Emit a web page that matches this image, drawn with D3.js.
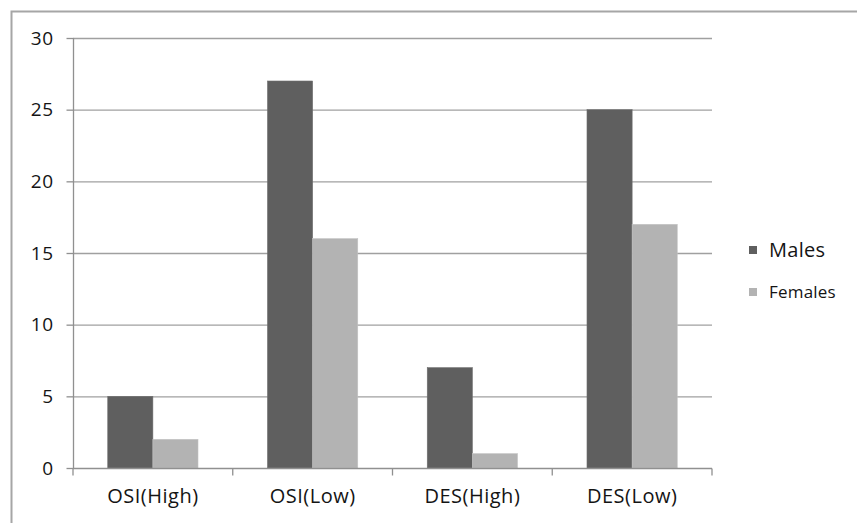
<!DOCTYPE html>
<html><head><meta charset="utf-8">
<script src="https://cdn.jsdelivr.net/npm/d3@7"></script>
<style>body{margin:0;background:#fff}svg{display:block}</style>
</head><body><svg id="c" width="857" height="523"></svg>
<script>
const categories = ["OSI(High)", "OSI(Low)", "DES(High)", "DES(Low)"];
const seriesNames = ["Males", "Females"];
const males = [5, 27, 7, 25];
const females = [2, 16, 1, 17];
const yTicks = [0, 5, 10, 15, 20, 25, 30];
const colors = ["#5f5f5f", "#b3b3b3"];
const FONT = "Open Sans";

const svg = d3.select("#c");
svg.append("rect").attr("x", 11.5).attr("y", 11.5).attr("width", 900).attr("height", 600)
  .attr("fill", "none").attr("stroke", "#a6a6a6").attr("stroke-width", 2);

const L = 73, R = 712, T = 38, B = 468;
const x = d3.scaleBand().domain(categories).range([L, R]).paddingInner(0).paddingOuter(0);
const y = d3.scaleLinear().domain([0, 30]).range([B, T]);
const inner = d3.scaleBand().domain(seriesNames).range([0, x.bandwidth()]).paddingInner(0).paddingOuter(0.77);

svg.append("g").selectAll("line").data(yTicks.filter(d => d > 0)).join("line")
  .attr("x1", L).attr("x2", R).attr("y1", d => y(d) + 0.5).attr("y2", d => y(d) + 0.5)
  .attr("stroke", "#a0a0a0").attr("stroke-width", 1.3);

const data = categories.map((c, i) => ({c, vals: [males[i], females[i]]}));
const g = svg.append("g");
data.forEach(d => {
  d.vals.forEach((v, j) => {
    g.append("rect").attr("x", x(d.c) + inner(seriesNames[j])).attr("y", y(v))
      .attr("width", inner.bandwidth()).attr("height", B - y(v))
      .attr("fill", colors[j]).attr("stroke", j === 0 ? "#6e6e6e" : "#c2c2c2").attr("stroke-width", 0.6);
  });
});

const ya = svg.append("g").attr("transform", `translate(${L + 0.5},0)`)
  .call(d3.axisLeft(y).tickValues(yTicks).tickSize(7).tickPadding(13));
ya.attr("font-size", null).attr("font-family", null);
ya.select(".domain").attr("stroke", "#909090").attr("stroke-width", 1.3).attr("d", `M0,${T}V${B}`);
ya.selectAll(".tick line").attr("stroke", "#909090").attr("stroke-width", 1.3);
ya.selectAll(".tick text").style("font-size", "19px").style("font-family", FONT)
  .style("letter-spacing", "0.5px").attr("fill", "#141414");

const xa = svg.append("g").attr("transform", `translate(0,${B + 0.5})`)
  .call(d3.axisBottom(x).tickSize(0).tickPadding(20));
xa.attr("font-size", null).attr("font-family", null);
xa.select(".domain").attr("stroke", "#909090").attr("stroke-width", 1.3).attr("d", `M${L},0H${R}`);
xa.selectAll(".tick text").style("font-size", "20px").style("font-family", FONT)
  .style("letter-spacing", "0.5px").attr("fill", "#141414");
const bounds = categories.map(c => x(c)).concat([R]);
xa.append("g").selectAll("line").data(bounds).join("line")
  .attr("x1", d => d).attr("x2", d => d).attr("y1", 0).attr("y2", 7)
  .attr("stroke", "#909090").attr("stroke-width", 1.3);

const lg = svg.append("g");
seriesNames.forEach((s, i) => {
  const cy = 250 + i * 42;
  lg.append("rect").attr("x", 749).attr("y", cy - 4).attr("width", 8).attr("height", 8).attr("fill", colors[i]);
  lg.append("text").attr("x", 769).attr("y", cy).attr("dy", "0.35em")
    .style("font-size", i === 0 ? "20px" : "17px").style("font-family", FONT)
    .style("letter-spacing", i === 0 ? "0.3px" : "0.2px").attr("fill", "#141414").text(s);
});
</script></body></html>
